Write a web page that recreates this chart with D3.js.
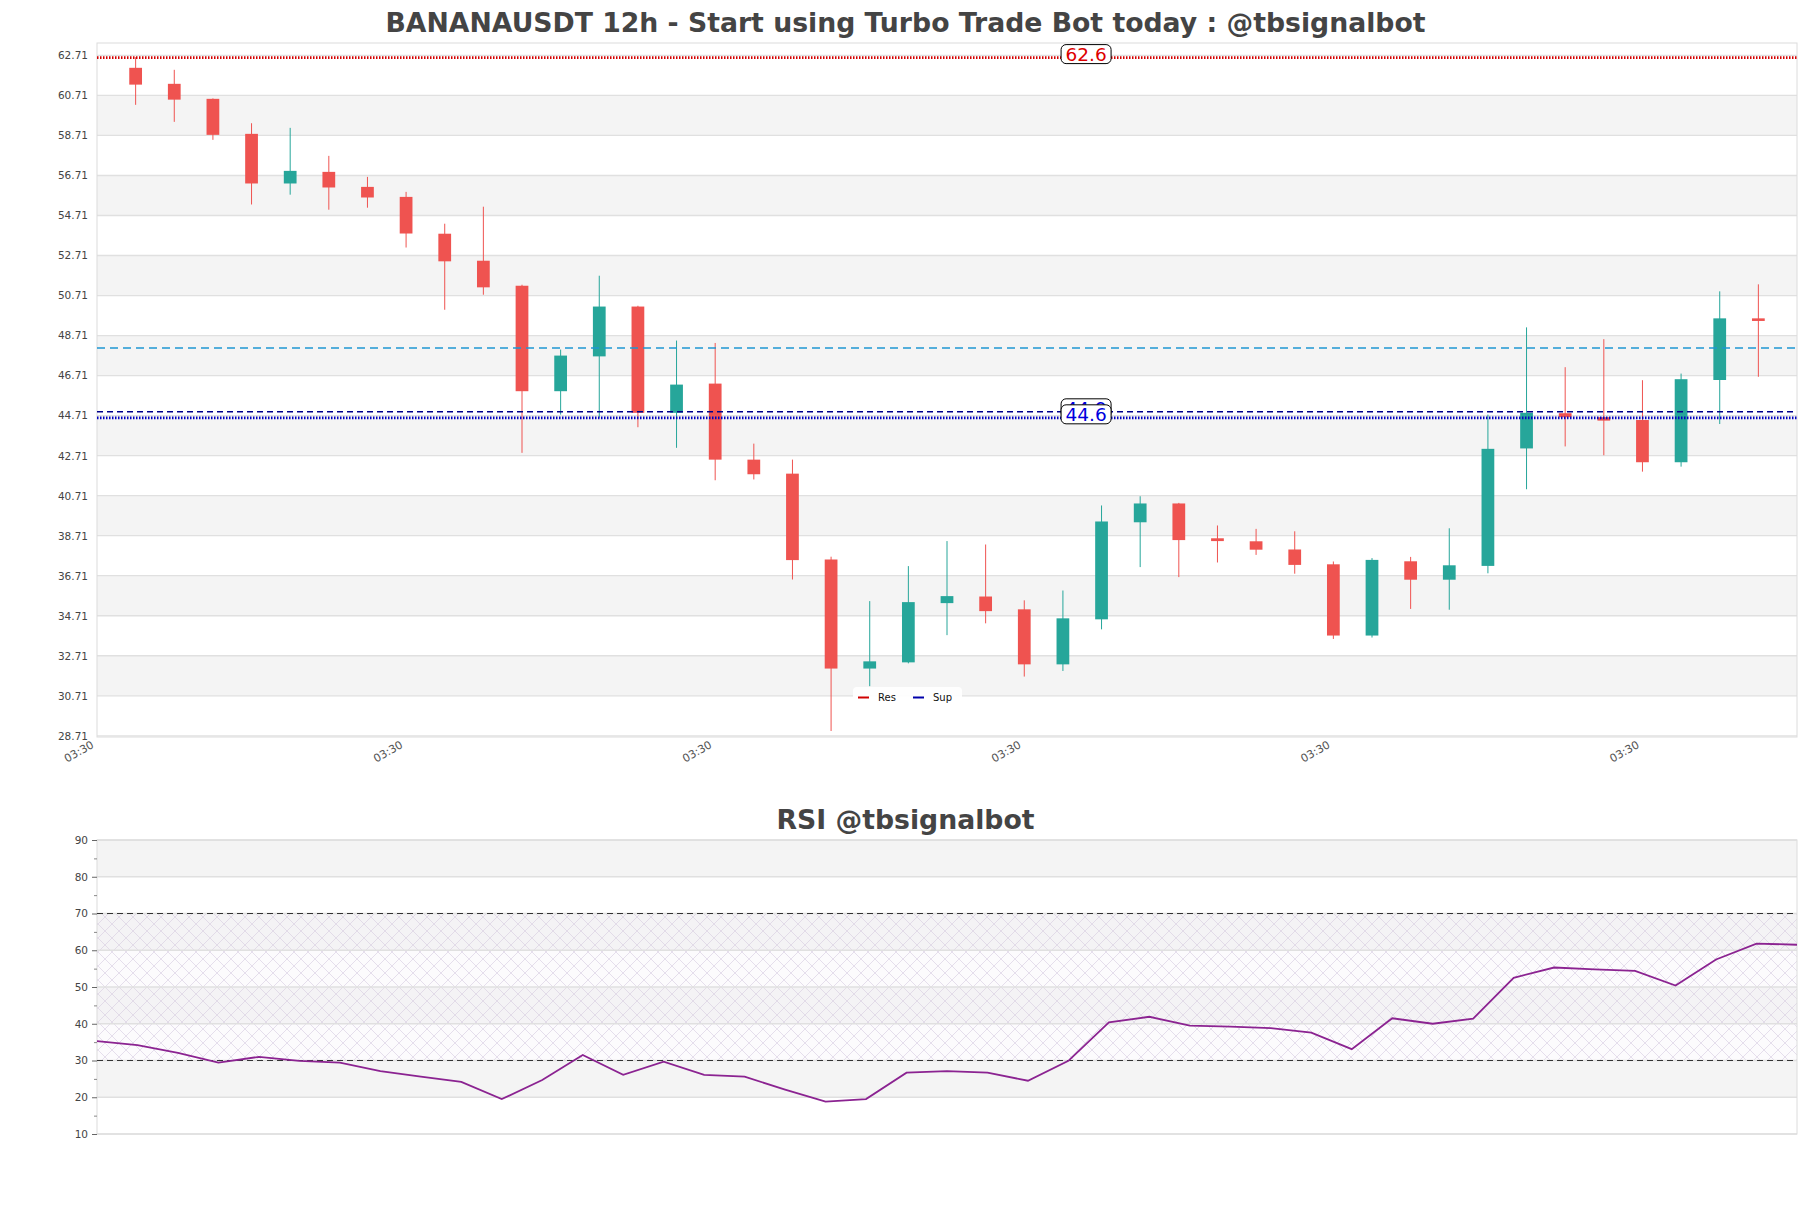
<!DOCTYPE html>
<html>
<head>
<meta charset="utf-8">
<script src="https://cdn.jsdelivr.net/npm/d3@7"></script>
<style>
  html, body { margin: 0; padding: 0; background: #fff; }
  svg { display: block; font-family: "DejaVu Sans", sans-serif; }
</style>
</head>
<body>
<svg id="chart" width="1811" height="1208"></svg>
<script>
// ---------------- DATA ----------------
const candleIndex = d3.range(43);
const opens  = [62.09, 61.29, 60.54, 58.79, 56.31, 56.89, 56.14, 55.64, 53.80, 52.45,
                51.20, 45.93, 47.67, 50.16, 44.85, 46.31, 42.51, 41.81, 37.52, 32.07,
                32.38, 35.34, 35.67, 35.03, 32.28, 34.53, 39.38, 40.32, 38.58, 38.43,
                38.02, 37.28, 33.72, 37.43, 36.51, 37.20, 43.07, 44.83, 44.63, 44.49,
                42.38, 46.49, 49.57];
const highs  = [62.62, 61.99, 60.56, 59.32, 59.09, 57.69, 56.64, 55.89, 54.30, 55.15,
                51.25, 48.01, 51.70, 50.20, 48.46, 48.34, 43.31, 42.51, 37.66, 35.44,
                37.19, 38.44, 38.27, 35.48, 35.97, 40.22, 40.68, 40.35, 39.22, 39.05,
                38.93, 37.42, 37.59, 37.65, 39.08, 44.76, 49.12, 47.13, 48.53, 46.48,
                46.81, 50.92, 51.27];
const lows   = [60.24, 59.39, 58.49, 55.26, 55.75, 55.00, 55.10, 53.11, 50.00, 50.75,
                42.85, 44.76, 44.61, 44.13, 43.10, 41.48, 41.52, 36.52, 28.95, 31.19,
                32.33, 33.74, 34.33, 31.67, 31.95, 34.03, 37.14, 36.64, 37.37, 37.75,
                36.81, 33.55, 33.62, 35.05, 35.01, 36.83, 41.03, 43.17, 42.73, 41.91,
                42.16, 44.29, 46.65];
const closes = [61.25, 60.50, 58.74, 56.31, 56.94, 56.11, 55.61, 53.81, 52.42, 51.12,
                45.93, 47.71, 50.16, 44.85, 46.26, 42.51, 41.78, 37.49, 32.07, 32.43,
                35.39, 35.69, 34.94, 32.28, 34.58, 39.42, 40.32, 38.49, 38.44, 38.01,
                37.25, 33.72, 37.50, 36.51, 37.23, 43.05, 44.85, 44.63, 44.46, 42.38,
                46.53, 49.57, 49.44];

const rsiValues = [35.3, 34.2, 32.1, 29.4, 31.0, 29.9, 29.4, 27.1, 25.6, 24.2,
                   19.5, 24.7, 31.5, 26.1, 29.7, 26.1, 25.6, 22.1, 18.8, 19.5,
                   26.7, 27.1, 26.7, 24.5, 29.9, 40.4, 41.9, 39.5, 39.2, 38.8,
                   37.6, 33.1, 41.5, 40.0, 41.4, 52.5, 55.3, 54.8, 54.4, 50.4,
                   57.5, 61.8, 61.5];

const priceTicks = [28.71, 30.71, 32.71, 34.71, 36.71, 38.71, 40.71, 42.71, 44.71,
                    46.71, 48.71, 50.71, 52.71, 54.71, 56.71, 58.71, 60.71, 62.71];
const xTickIndex  = [-1, 7, 15, 23, 31, 39];
const xTickLabels = ["03:30", "03:30", "03:30", "03:30", "03:30", "03:30"];

const rsiTicks = [10, 20, 30, 40, 50, 60, 70, 80, 90];
const rsiMinorTicks = [15, 25, 35, 45, 55, 65, 75, 85];

const resLevel = [62.6];
const supLevel = [44.6];
const supLevel2 = [44.9];
const midLevel = [48.09];
const labelIndex = 24.6;

const titleMain = "BANANAUSDT 12h - Start using Turbo Trade Bot today : @tbsignalbot";
const titleRsi = "RSI @tbsignalbot";

// ---------------- LAYOUT ----------------
const svg = d3.select("#chart");
const W = 1811;
const main = { left: 97, right: 1797, top: 43, bottom: 737 };
const rsiBox = { left: 97, right: 1797, top: 840, bottom: 1134 };

const defs = svg.append("defs");
const pat = defs.append("pattern")
  .attr("id", "hatch").attr("patternUnits", "userSpaceOnUse")
  .attr("width", 14).attr("height", 14);
pat.append("path").attr("d", "M0,0 L14,14 M14,0 L0,14 M-7,7 L7,-7 M7,21 L21,7 M-7,7 L7,21 M7,-7 L21,7")
  .attr("stroke", "#c9bad6").attr("stroke-width", 0.7).attr("fill", "none").attr("opacity", 0.8);

// ---------------- MAIN CHART ----------------
const x = d3.scaleLinear().domain([-1, 43]).range([main.left, main.right]);
const y = d3.scaleLinear().domain([28.65, 63.33]).range([main.bottom, main.top]);

svg.append("text").attr("x", W / 2).attr("y", 32).attr("text-anchor", "middle")
  .attr("font-size", 26.7).attr("font-weight", "bold").attr("fill", "#444").text(titleMain);

const gMain = svg.append("g");
const bandPairs = d3.pairs(priceTicks);
gMain.selectAll("rect.band").data(bandPairs).join("rect")
  .attr("x", main.left).attr("width", main.right - main.left)
  .attr("y", d => y(d[1])).attr("height", d => y(d[0]) - y(d[1]))
  .attr("fill", (d, i) => (i % 2 === 1 ? "#f4f4f4" : "#ffffff"));
gMain.selectAll("line.grid").data(priceTicks).join("line")
  .attr("x1", main.left).attr("x2", main.right)
  .attr("y1", d => y(d)).attr("y2", d => y(d))
  .attr("stroke", "#e0e0e0").attr("stroke-width", 1.3);
gMain.append("rect").attr("x", main.left).attr("y", main.top)
  .attr("width", main.right - main.left).attr("height", main.bottom - main.top)
  .attr("fill", "none").attr("stroke", "#dcdcdc").attr("stroke-width", 1);

// y axis
const yAxis = d3.axisLeft(y).tickValues(priceTicks).tickFormat(d3.format(".2f")).tickSize(0).tickPadding(9);
const gy = svg.append("g").attr("transform", `translate(${main.left},0)`).call(yAxis);
gy.select(".domain").remove();
gy.selectAll("text").attr("font-size", 10.5).attr("fill", "#444").attr("font-family", "DejaVu Sans");

// x axis
const xAxis = d3.axisBottom(x).tickValues(xTickIndex).tickFormat((d, i) => xTickLabels[i]).tickSize(0);
const gx = svg.append("g").attr("transform", `translate(0,${main.bottom})`).call(xAxis);
gx.select(".domain").remove();
gx.selectAll("text").attr("font-size", 11).attr("fill", "#555").attr("font-family", "DejaVu Sans")
  .attr("text-anchor", "end").attr("dy", 0).attr("y", 0)
  .attr("transform", "translate(-3,10) rotate(-30)");

// horizontal levels
const gLev = svg.append("g");
gLev.selectAll("line.mid").data(midLevel).join("line")
  .attr("x1", main.left).attr("x2", main.right).attr("y1", d => y(d)).attr("y2", d => y(d))
  .attr("stroke", "#1e96d2").attr("stroke-width", 1.4).attr("stroke-dasharray", "8,5");
gLev.selectAll("line.sup2").data(supLevel2).join("line")
  .attr("x1", main.left).attr("x2", main.right).attr("y1", d => y(d)).attr("y2", d => y(d))
  .attr("stroke", "#00008b").attr("stroke-width", 1.4).attr("stroke-dasharray", "6,4");

// candles
const bw = (x(1) - x(0)) * 0.33;
const gC = svg.append("g");
const up = i => closes[i] >= opens[i];
const col = i => (up(i) ? "#26a69a" : "#ef5350");
gC.selectAll("line.wick").data(candleIndex).join("line")
  .attr("x1", i => x(i)).attr("x2", i => x(i))
  .attr("y1", i => y(highs[i])).attr("y2", i => y(lows[i]))
  .attr("stroke", col).attr("stroke-width", 1);
gC.selectAll("rect.body").data(candleIndex).join("rect")
  .attr("x", i => x(i) - bw / 2).attr("width", bw)
  .attr("y", i => y(Math.max(opens[i], closes[i])))
  .attr("height", i => Math.max(2, Math.abs(y(opens[i]) - y(closes[i]))))
  .attr("fill", col);

gLev.raise();
gLev.selectAll("line.res").data(resLevel).join("line")
  .attr("x1", main.left).attr("x2", main.right).attr("y1", d => y(d)).attr("y2", d => y(d))
  .attr("stroke", "#d40000").attr("stroke-width", 2.8).attr("stroke-dasharray", "1.5,1.5");
gLev.selectAll("line.sup").data(supLevel).join("line")
  .attr("x1", main.left).attr("x2", main.right).attr("y1", d => y(d)).attr("y2", d => y(d))
  .attr("stroke", "#0000c0").attr("stroke-width", 2.8).attr("stroke-dasharray", "1.5,1.5");

// value labels
function valueLabel(v, color, txt) {
  const g = svg.append("g").attr("transform", `translate(${x(labelIndex)},${y(v) - 3.5})`);
  g.append("rect").attr("x", -25).attr("y", -9.5).attr("width", 50).attr("height", 19)
    .attr("rx", 5).attr("fill", "#fff").attr("stroke", "#000").attr("stroke-width", 1);
  g.append("text").attr("text-anchor", "middle").attr("y", 6.8)
    .attr("font-size", 18.5).attr("fill", color).text(txt);
}
supLevel2.forEach(v => valueLabel(v, "#0000dd", d3.format(".1f")(v)));
supLevel.forEach(v => valueLabel(v, "#0000dd", d3.format(".1f")(v)));
resLevel.forEach(v => valueLabel(v, "#dd0000", d3.format(".1f")(v)));

// legend
const lg = svg.append("g").attr("transform", "translate(853,687)");
lg.append("rect").attr("width", 109).attr("height", 19).attr("rx", 4).attr("fill", "#fff").attr("opacity", 0.9);
lg.append("line").attr("x1", 5).attr("x2", 16).attr("y1", 10.5).attr("y2", 10.5).attr("stroke", "#d00000").attr("stroke-width", 2);
lg.append("text").attr("x", 25).attr("y", 14).attr("font-size", 10).attr("fill", "#111").text("Res");
lg.append("line").attr("x1", 60).attr("x2", 71).attr("y1", 10.5).attr("y2", 10.5).attr("stroke", "#0000aa").attr("stroke-width", 2);
lg.append("text").attr("x", 80).attr("y", 14).attr("font-size", 10).attr("fill", "#111").text("Sup");

// ---------------- RSI ----------------
const xr = d3.scaleLinear().domain([0, rsiValues.length - 1]).range([rsiBox.left, rsiBox.right]);
const yr = d3.scaleLinear().domain([10, 90]).range([rsiBox.bottom, rsiBox.top]);

svg.append("text").attr("x", W / 2).attr("y", 829).attr("text-anchor", "middle")
  .attr("font-size", 26.7).attr("font-weight", "bold").attr("fill", "#444").text(titleRsi);

const gR = svg.append("g");
const rPairs = d3.pairs(rsiTicks);
gR.selectAll("rect.band").data(rPairs).join("rect")
  .attr("x", rsiBox.left).attr("width", rsiBox.right - rsiBox.left)
  .attr("y", d => yr(d[1])).attr("height", d => yr(d[0]) - yr(d[1]))
  .attr("fill", (d, i) => (i % 2 === 1 ? "#f4f4f4" : "#ffffff"));
gR.append("rect").attr("x", rsiBox.left).attr("width", rsiBox.right - rsiBox.left)
  .attr("y", yr(70)).attr("height", yr(30) - yr(70)).attr("fill", "url(#hatch)");
gR.append("rect").attr("x", rsiBox.left).attr("width", rsiBox.right - rsiBox.left)
  .attr("y", yr(70)).attr("height", yr(30) - yr(70)).attr("fill", "#f3eef6").attr("opacity", 0.25);
gR.selectAll("line.grid").data(rsiTicks).join("line")
  .attr("x1", rsiBox.left).attr("x2", rsiBox.right)
  .attr("y1", d => yr(d)).attr("y2", d => yr(d))
  .attr("stroke", "#e0e0e0").attr("stroke-width", 1.3);
gR.append("rect").attr("x", rsiBox.left).attr("y", rsiBox.top)
  .attr("width", rsiBox.right - rsiBox.left).attr("height", rsiBox.bottom - rsiBox.top)
  .attr("fill", "none").attr("stroke", "#dcdcdc").attr("stroke-width", 1);
gR.selectAll("line.ob").data([70, 30]).join("line")
  .attr("x1", rsiBox.left).attr("x2", rsiBox.right)
  .attr("y1", d => yr(d)).attr("y2", d => yr(d))
  .attr("stroke", "#333").attr("stroke-width", 1.2).attr("stroke-dasharray", "6,4");

const yrAxis = d3.axisLeft(yr).tickValues(rsiTicks).tickSize(5).tickPadding(4);
const gyr = svg.append("g").attr("transform", `translate(${rsiBox.left},0)`).call(yrAxis);
gyr.select(".domain").remove();
gyr.selectAll("line").attr("stroke", "#666");
gyr.selectAll("text").attr("font-size", 10.5).attr("fill", "#444").attr("font-family", "DejaVu Sans");
const gyrMinor = svg.append("g").attr("transform", `translate(${rsiBox.left},0)`)
  .call(d3.axisLeft(yr).tickValues(rsiMinorTicks).tickSize(3).tickFormat(""));
gyrMinor.select(".domain").remove();
gyrMinor.selectAll("line").attr("stroke", "#888");

const line = d3.line().x((d, i) => xr(i)).y(d => yr(d));
gR.append("path").datum(rsiValues).attr("d", line)
  .attr("fill", "none").attr("stroke", "#8b2391").attr("stroke-width", 1.8);
</script>
</body>
</html>
